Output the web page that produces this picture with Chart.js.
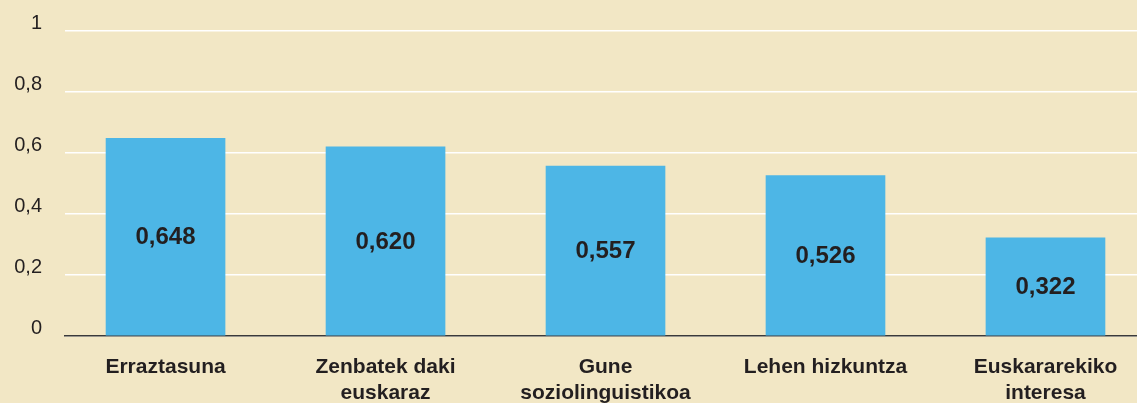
<!DOCTYPE html>
<html>
<head>
<meta charset="utf-8">
<script src="https://cdn.jsdelivr.net/npm/chart.js@4"></script>
<style>
  html, body { margin: 0; padding: 0; background: #f2e7c5; overflow: hidden; }
  #wrap { width: 1137px; height: 403px; }
</style>
</head>
<body>
<div id="wrap"><canvas id="chart"></canvas></div>
<script>
// Category names (split into lines) and their index values
const categories = [
  ['Erraztasuna'],
  ['Zenbatek daki', 'euskaraz'],
  ['Gune', 'soziolinguistikoa'],
  ['Lehen hizkuntza'],
  ['Euskararekiko', 'interesa']
];
const values = [0.648, 0.620, 0.557, 0.526, 0.322];
const yTicks = [0, 0.2, 0.4, 0.6, 0.8, 1];

const FONT = '"Liberation Sans", Arial, sans-serif';
const fmt = v => v.toFixed(3).replace('.', ',');
const fmtTick = v => String(Math.round(v * 10) / 10).replace('.', ',');

// writes the value in the middle of each bar
const valueLabels = {
  id: 'valueLabels',
  afterDatasetsDraw(chart) {
    const ctx = chart.ctx;
    const meta = chart.getDatasetMeta(0);
    ctx.save();
    ctx.font = 'bold 24px ' + FONT;
    ctx.fillStyle = '#231f20';
    ctx.textAlign = 'center';
    ctx.textBaseline = 'middle';
    meta.data.forEach((bar, i) => {
      const mid = (bar.y + bar.base) / 2 + 1;
      ctx.fillText(fmt(values[i]), bar.x, mid);
    });
    ctx.restore();
  }
};

new Chart(document.getElementById('chart'), {
  type: 'bar',
  data: {
    datasets: [{
      data: values.map((v, i) => ({ x: i, y: v })),
      backgroundColor: '#4db6e6',
      borderWidth: 0,
      barThickness: 119
    }]
  },
  options: {
    responsive: true,
    maintainAspectRatio: false,
    animation: false,
    layout: { padding: { top: 31, right: 0, left: 0, bottom: 0 } },
    plugins: { legend: { display: false }, tooltip: { enabled: false } },
    scales: {
      x: {
        type: 'linear',
        offset: false,
        min: -0.457,
        max: 4.416,
        afterBuildTicks: s => { s.ticks = categories.map((_, i) => ({ value: i })); },
        afterFit: s => { s.height = 67; s.paddingLeft = 0; s.paddingRight = 0; },
        grid: { display: false, drawTicks: false, offset: false },
        border: { display: true, color: '#3a3a3a', width: 1.5 },
        ticks: {
          padding: 19,
          maxRotation: 0,
          autoSkip: false,
          color: '#231f20',
          font: { family: FONT, size: 21, weight: 'bold', lineHeight: 1.2 },
          callback: v => categories[v]
        }
      },
      y: {
        min: 0,
        max: 1,
        afterBuildTicks: s => { s.ticks = yTicks.map(v => ({ value: v })); },
        afterFit: s => { s.width = 65; s.paddingTop = 0; s.paddingBottom = 0; },
        grid: { color: '#ffffff', lineWidth: 1.5, drawTicks: false },
        border: { display: false },
        ticks: {
          padding: 23,
          labelOffset: -8,
          color: '#231f20',
          font: { family: FONT, size: 20 },
          callback: v => fmtTick(v)
        }
      }
    }
  },
  plugins: [valueLabels]
});
</script>
</body>
</html>
